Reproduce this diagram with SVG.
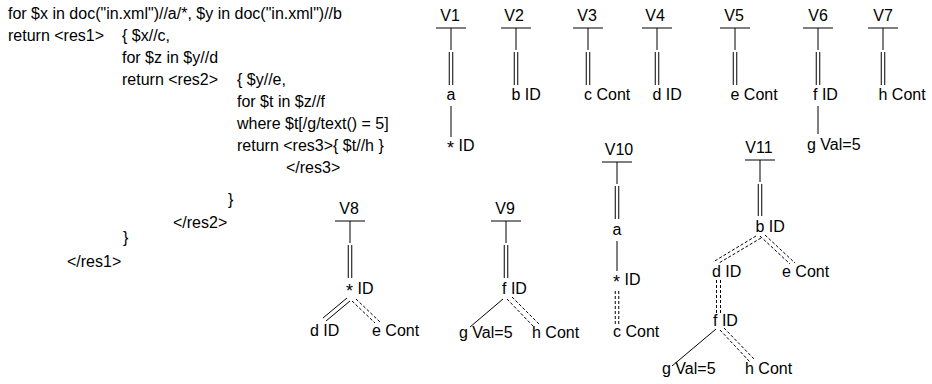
<svg xmlns="http://www.w3.org/2000/svg" width="932" height="384" viewBox="0 0 932 384">
<style>
text{font-family:"Liberation Sans",Arial,Helvetica,sans-serif;font-size:16px;fill:#000}
.m{text-anchor:middle}
.st{font-size:18px}
line{stroke:#000;stroke-width:1;fill:none}
.dd{stroke-dasharray:3,2}
</style>
<rect width="932" height="384" fill="#fff"/>
<g id="code">
<text x="8" y="19">for $x in doc("in.xml")//a/*, $y in doc("in.xml")//b</text>
<text x="8" y="41">return &lt;res1&gt;<tspan x="122">{ $x//c,</tspan></text>
<text x="122" y="63">for $z in $y//d</text>
<text x="122" y="85">return &lt;res2&gt;<tspan x="237">{ $y//e,</tspan></text>
<text x="237" y="107">for $t in $z//f</text>
<text x="237" y="129">where $t[/g/text() = 5]</text>
<text x="237" y="151">return &lt;res3&gt;{ $t//h }</text>
<text x="286" y="173">&lt;/res3&gt;</text>
<text x="228" y="205">}</text>
<text x="173" y="228">&lt;/res2&gt;</text>
<text x="123" y="243">}</text>
<text x="67" y="267">&lt;/res1&gt;</text>
</g>
<g id="connectors">
<!-- V1 -->
<line x1="436" y1="28" x2="466" y2="28"/><line x1="451" y1="28" x2="451" y2="50"/>
<line x1="449.25" y1="52" x2="449.25" y2="85"/><line x1="452.75" y1="52" x2="452.75" y2="85"/>
<line x1="451" y1="106" x2="451" y2="137"/>
<!-- V2 -->
<line x1="501" y1="28" x2="531" y2="28"/><line x1="516" y1="28" x2="516" y2="50"/>
<line x1="514.25" y1="52" x2="514.25" y2="85"/><line x1="517.75" y1="52" x2="517.75" y2="85"/>
<!-- V3 -->
<line x1="573" y1="28" x2="603" y2="28"/><line x1="588" y1="28" x2="588" y2="50"/>
<line x1="586.25" y1="52" x2="586.25" y2="85"/><line x1="589.75" y1="52" x2="589.75" y2="85"/>
<!-- V4 -->
<line x1="642" y1="28" x2="672" y2="28"/><line x1="657" y1="28" x2="657" y2="50"/>
<line x1="655.25" y1="52" x2="655.25" y2="85"/><line x1="658.75" y1="52" x2="658.75" y2="85"/>
<!-- V5 -->
<line x1="720" y1="28" x2="750" y2="28"/><line x1="735" y1="28" x2="735" y2="50"/>
<line x1="733.25" y1="52" x2="733.25" y2="85"/><line x1="736.75" y1="52" x2="736.75" y2="85"/>
<!-- V6 -->
<line x1="803" y1="28" x2="833" y2="28"/><line x1="818" y1="28" x2="818" y2="50"/>
<line x1="816.25" y1="52" x2="816.25" y2="85"/><line x1="819.75" y1="52" x2="819.75" y2="85"/>
<line x1="818" y1="106" x2="818" y2="134"/>
<!-- V7 -->
<line x1="868" y1="28" x2="898" y2="28"/><line x1="883" y1="28" x2="883" y2="50"/>
<line x1="881.25" y1="52" x2="881.25" y2="85"/><line x1="884.75" y1="52" x2="884.75" y2="85"/>
<!-- V8 -->
<line x1="335" y1="221" x2="365" y2="221"/><line x1="350" y1="221" x2="350" y2="243"/>
<line x1="348.25" y1="245" x2="348.25" y2="278"/><line x1="351.75" y1="245" x2="351.75" y2="278"/>
<line x1="347" y1="298" x2="323" y2="318"/><line x1="350" y1="301" x2="326" y2="321"/>
<line class="dd" x1="352" y1="301" x2="375" y2="323"/><line class="dd" x1="356" y1="299" x2="380" y2="322"/>
<!-- V9 -->
<line x1="491" y1="221" x2="521" y2="221"/><line x1="506" y1="221" x2="506" y2="243"/>
<line x1="504.25" y1="245" x2="504.25" y2="278"/><line x1="507.75" y1="245" x2="507.75" y2="278"/>
<line x1="503" y1="299" x2="470" y2="327"/>
<line class="dd" x1="507" y1="299" x2="533" y2="326"/><line class="dd" x1="512" y1="297" x2="539" y2="324"/>
<!-- V10 -->
<line x1="602" y1="162" x2="632" y2="162"/><line x1="617" y1="162" x2="617" y2="184"/>
<line x1="615.25" y1="186" x2="615.25" y2="219"/><line x1="618.75" y1="186" x2="618.75" y2="219"/>
<line x1="617" y1="241" x2="617" y2="271"/>
<line class="dd" x1="615.25" y1="291" x2="615.25" y2="324"/><line class="dd" x1="618.75" y1="291" x2="618.75" y2="324"/>
<!-- V11 -->
<line x1="745" y1="160" x2="775" y2="160"/><line x1="760" y1="160" x2="760" y2="182"/>
<line x1="758.25" y1="184" x2="758.25" y2="216"/><line x1="761.75" y1="184" x2="761.75" y2="216"/>
<line class="dd" x1="756" y1="236" x2="713" y2="262"/><line class="dd" x1="761" y1="238" x2="719" y2="263"/>
<line class="dd" x1="760" y1="236" x2="790" y2="264"/><line class="dd" x1="765" y1="235" x2="795" y2="263"/>
<line class="dd" x1="716.5" y1="280" x2="716.5" y2="315"/><line class="dd" x1="720.5" y1="280" x2="720.5" y2="315"/>
<line x1="716" y1="329" x2="672" y2="366"/>
<line class="dd" x1="720" y1="330" x2="750" y2="362"/><line class="dd" x1="724" y1="328" x2="755" y2="360"/>
</g>
<g id="V1"><text class="m" x="450" y="21">V1</text></g>
<g id="V1-a"><text class="m" x="451" y="100">a</text></g>
<g id="V1-star"><text x="447" y="151"><tspan class="st" dy="3">*</tspan><tspan dy="-3"> ID</tspan></text></g>
<g id="V2"><text class="m" x="514" y="21">V2</text></g>
<g id="V2-b"><text x="511.5" y="100">b ID</text></g>
<g id="V3"><text class="m" x="587" y="21">V3</text></g>
<g id="V3-c"><text x="584" y="100">c Cont</text></g>
<g id="V4"><text class="m" x="655" y="21">V4</text></g>
<g id="V4-d"><text x="652.5" y="100">d ID</text></g>
<g id="V5"><text class="m" x="734" y="21">V5</text></g>
<g id="V5-e"><text x="730.5" y="100">e Cont</text></g>
<g id="V6"><text class="m" x="818" y="21">V6</text></g>
<g id="V6-f"><text x="813" y="100">f ID</text></g>
<g id="V6-g"><text x="807" y="150">g Val=5</text></g>
<g id="V7"><text class="m" x="883" y="21">V7</text></g>
<g id="V7-h"><text x="878.5" y="100">h Cont</text></g>
<g id="V8"><text class="m" x="349" y="214">V8</text></g>
<g id="V8-star"><text x="346" y="294"><tspan class="st" dy="3">*</tspan><tspan dy="-3"> ID</tspan></text></g>
<g id="V8-d"><text x="310" y="336">d ID</text></g>
<g id="V8-e"><text x="372" y="336">e Cont</text></g>
<g id="V9"><text class="m" x="505" y="214">V9</text></g>
<g id="V9-f"><text x="502" y="294">f ID</text></g>
<g id="V9-g"><text x="459" y="338">g Val=5</text></g>
<g id="V9-h"><text x="532" y="338">h Cont</text></g>
<g id="V10"><text class="m" x="619" y="155">V10</text></g>
<g id="V10-a"><text class="m" x="617" y="235">a</text></g>
<g id="V10-star"><text x="613" y="285"><tspan class="st" dy="3">*</tspan><tspan dy="-3"> ID</tspan></text></g>
<g id="V10-c"><text x="613" y="337">c Cont</text></g>
<g id="V11"><text class="m" x="759" y="153">V11</text></g>
<g id="V11-b"><text x="755.5" y="232">b ID</text></g>
<g id="V11-d"><text x="712" y="277">d ID</text></g>
<g id="V11-e"><text x="782" y="277">e Cont</text></g>
<g id="V11-f"><text x="713" y="326">f ID</text></g>
<g id="V11-g"><text x="662" y="374">g Val=5</text></g>
<g id="V11-h"><text x="745" y="374">h Cont</text></g>
</svg>
